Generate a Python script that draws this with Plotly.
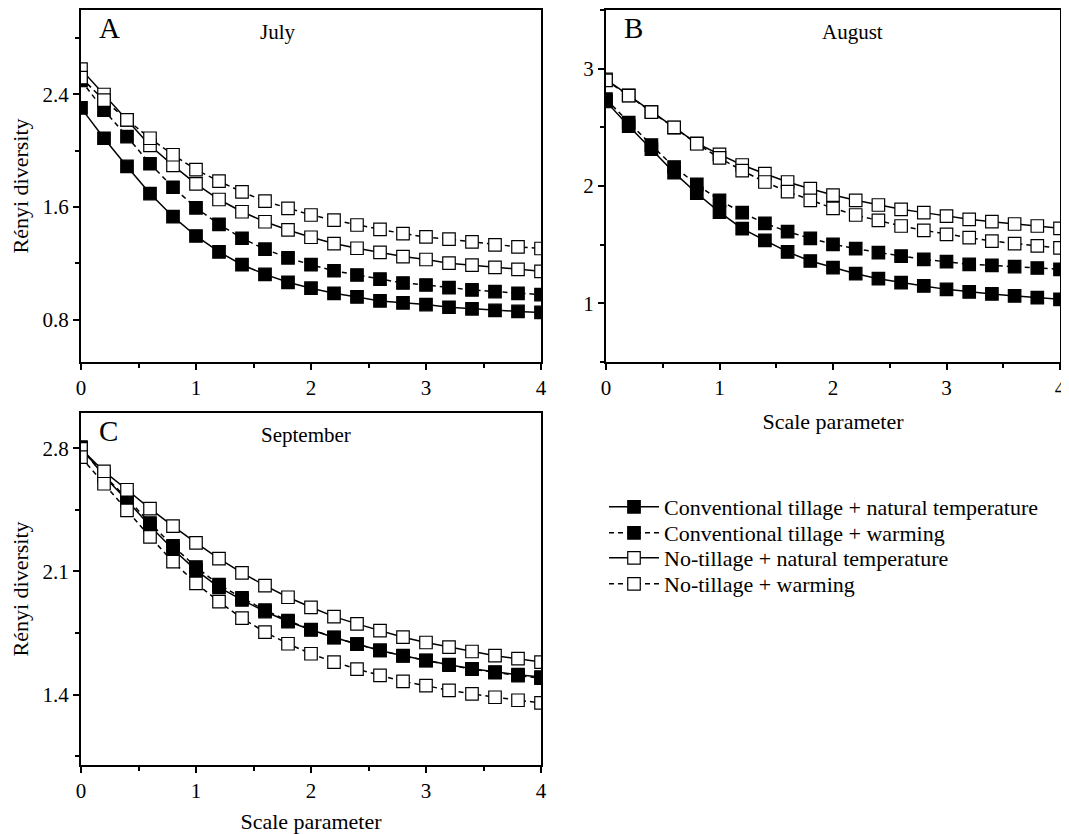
import plotly.graph_objects as go

scale = [0, 0.2, 0.4, 0.6, 0.8, 1.0, 1.2, 1.4, 1.6, 1.8, 2.0, 2.2, 2.4, 2.6, 2.8, 3.0, 3.2, 3.4, 3.6, 3.8, 4.0]

series_names = [
    "Conventional tillage + natural temperature",
    "Conventional tillage + warming",
    "No-tillage + natural temperature",
    "No-tillage + warming",
]

# July (A)
jul_ct_nt = [2.305, 2.089, 1.889, 1.696, 1.532, 1.395, 1.282, 1.191, 1.122, 1.066, 1.024, 0.988, 0.962, 0.934, 0.920, 0.908, 0.889, 0.878, 0.866, 0.859, 0.852]
jul_ct_w = [2.50, 2.289, 2.101, 1.908, 1.741, 1.595, 1.478, 1.379, 1.301, 1.240, 1.191, 1.148, 1.118, 1.089, 1.061, 1.047, 1.028, 1.012, 1.000, 0.988, 0.979]
jul_nt_nt = [2.58, 2.40, 2.219, 2.038, 1.896, 1.765, 1.654, 1.567, 1.496, 1.438, 1.386, 1.341, 1.308, 1.278, 1.249, 1.228, 1.202, 1.188, 1.172, 1.158, 1.144]
jul_nt_w = [2.52, 2.36, 2.22, 2.089, 1.972, 1.866, 1.784, 1.708, 1.642, 1.591, 1.544, 1.508, 1.473, 1.442, 1.412, 1.388, 1.372, 1.353, 1.332, 1.318, 1.306]

# August (B)
aug_ct_nt = [2.72, 2.511, 2.313, 2.114, 1.938, 1.778, 1.636, 1.537, 1.438, 1.361, 1.304, 1.253, 1.210, 1.176, 1.148, 1.119, 1.097, 1.080, 1.063, 1.048, 1.034]
aug_ct_w = [2.74, 2.540, 2.349, 2.162, 2.014, 1.878, 1.773, 1.682, 1.611, 1.554, 1.503, 1.466, 1.432, 1.403, 1.375, 1.355, 1.332, 1.324, 1.313, 1.301, 1.290]
aug_nt_nt = [2.909, 2.773, 2.631, 2.497, 2.364, 2.270, 2.179, 2.105, 2.034, 1.977, 1.923, 1.878, 1.838, 1.801, 1.773, 1.744, 1.716, 1.696, 1.676, 1.659, 1.639]
aug_nt_w = [2.90, 2.77, 2.63, 2.50, 2.36, 2.239, 2.131, 2.034, 1.952, 1.878, 1.810, 1.753, 1.707, 1.659, 1.622, 1.588, 1.560, 1.531, 1.509, 1.489, 1.472]

# September (C)
sep_ct_nt = [2.806, 2.640, 2.504, 2.358, 2.226, 2.107, 2.009, 1.938, 1.872, 1.815, 1.768, 1.724, 1.687, 1.651, 1.621, 1.594, 1.570, 1.547, 1.528, 1.513, 1.500]
sep_ct_w = [2.80, 2.645, 2.515, 2.375, 2.245, 2.125, 2.025, 1.950, 1.880, 1.820, 1.770, 1.725, 1.687, 1.651, 1.620, 1.593, 1.568, 1.545, 1.525, 1.508, 1.493]
sep_nt_nt = [2.796, 2.668, 2.564, 2.457, 2.357, 2.262, 2.173, 2.092, 2.019, 1.953, 1.896, 1.843, 1.802, 1.764, 1.726, 1.696, 1.670, 1.645, 1.621, 1.604, 1.585]
sep_nt_w = [2.749, 2.598, 2.447, 2.296, 2.155, 2.032, 1.928, 1.834, 1.755, 1.689, 1.632, 1.585, 1.545, 1.509, 1.475, 1.451, 1.424, 1.404, 1.385, 1.368, 1.353]

panels = [
    ("x", "y", "A", "July", 0.428, [jul_ct_nt, jul_ct_w, jul_nt_nt, jul_nt_w]),
    ("x2", "y2", "B", "August", 0.544, [aug_ct_nt, aug_ct_w, aug_nt_nt, aug_nt_w]),
    ("x3", "y3", "C", "September", 0.49, [sep_ct_nt, sep_ct_w, sep_nt_nt, sep_nt_w]),
]

FONT = "Liberation Serif"
# page body adds an 8px margin; size the figure so it fills the 1069x834 window
OFF = 8
W, H = 1069 - OFF, 834 - OFF

styles = [
    dict(dash="solid", fill="black"),
    dict(dash="5px,4px", fill="black"),
    dict(dash="solid", fill="white"),
    dict(dash="5px,4px", fill="white"),
]
legend_ids = ["legend", "legend2", "legend3", "legend4"]

fig = go.Figure()
for pi, (xa, ya, letter, month, mx, data) in enumerate(panels):
    for si in range(4):
        st = styles[si]
        fig.add_trace(go.Scatter(
            x=scale, y=data[si], xaxis=xa, yaxis=ya,
            mode="lines+markers", name=series_names[si],
            legend=legend_ids[si],
            showlegend=(pi == 0),
            line=dict(color="black", width=1.5, dash=st["dash"]),
            marker=dict(symbol="square", size=12.5, color=st["fill"],
                        line=dict(color="black", width=1.2)),
        ))
    fig.add_annotation(text=letter, xref=f"{xa} domain", yref=f"{ya} domain",
                       x=0.035, y=1.0, xanchor="left", yanchor="top", showarrow=False,
                       font=dict(family=FONT, size=29, color="black"))
    fig.add_annotation(text=month, xref=f"{xa} domain", yref=f"{ya} domain",
                       x=mx, y=0.978, xanchor="center", yanchor="top",
                       showarrow=False, font=dict(family=FONT, size=21, color="black"))


def px_x(a, b):
    return [(a - OFF) / W, (b - OFF) / W]


def px_y(top, bottom):
    return [1 - (bottom - OFF) / H, 1 - (top - OFF) / H]


axis_common = dict(
    showline=True, linecolor="black", linewidth=2, mirror=True,
    ticks="outside", ticklen=6, tickwidth=1.5, tickcolor="black",
    showgrid=False, zeroline=False, automargin=False,
    tickfont=dict(family=FONT, size=21, color="black"),
)

xcommon = dict(axis_common, range=[0, 4], dtick=1, tick0=0,
               minor=dict(ticks="outside", dtick=0.5, ticklen=4, tickwidth=1.5, tickcolor="black"))

title_font = dict(family=FONT, size=22, color="black")

legend_tops = [486, 512, 537, 563]
legend_layout = {}
for lid, top in zip(legend_ids, legend_tops):
    legend_layout[lid] = dict(x=(604 - OFF) / W, y=1 - (top - OFF) / H, xanchor="left", yanchor="top",
                              font=dict(family=FONT, size=22, color="black"),
                              bgcolor="rgba(0,0,0,0)", itemwidth=50)

fig.update_layout(
    width=W, height=H,
    margin=dict(l=0, r=0, t=0, b=0),
    paper_bgcolor="white", plot_bgcolor="white",
    font=dict(family=FONT, color="black"),
    xaxis=dict(xcommon, domain=px_x(81, 541), anchor="y"),
    yaxis=dict(axis_common, domain=px_y(10, 362), anchor="x", range=[0.5, 3.0], tick0=0.8, dtick=0.8,
               tickformat=".1f",
               minor=dict(ticks="outside", dtick=0.4, tick0=0.8, ticklen=4, tickwidth=1.5, tickcolor="black"),
               title=dict(text="Rényi diversity", font=title_font, standoff=12)),
    xaxis2=dict(xcommon, domain=px_x(606, 1060), anchor="y2",
                title=dict(text="Scale parameter", font=title_font, standoff=14)),
    yaxis2=dict(axis_common, domain=px_y(10, 362), anchor="x2", range=[0.5, 3.5], tick0=1, dtick=1,
                minor=dict(ticks="outside", dtick=0.5, tick0=1, ticklen=4, tickwidth=1.5, tickcolor="black")),
    xaxis3=dict(xcommon, domain=px_x(81, 541), anchor="y3",
                title=dict(text="Scale parameter", font=title_font, standoff=16)),
    yaxis3=dict(axis_common, domain=px_y(413, 765), anchor="x3", range=[1.0, 3.0], tick0=1.4, dtick=0.7,
                tickformat=".1f",
                minor=dict(ticks="outside", dtick=0.35, tick0=1.4, ticklen=4, tickwidth=1.5, tickcolor="black"),
                title=dict(text="Rényi diversity", font=title_font, standoff=12)),
    showlegend=True,
    **legend_layout,
)

fig.write_html("out.html")
